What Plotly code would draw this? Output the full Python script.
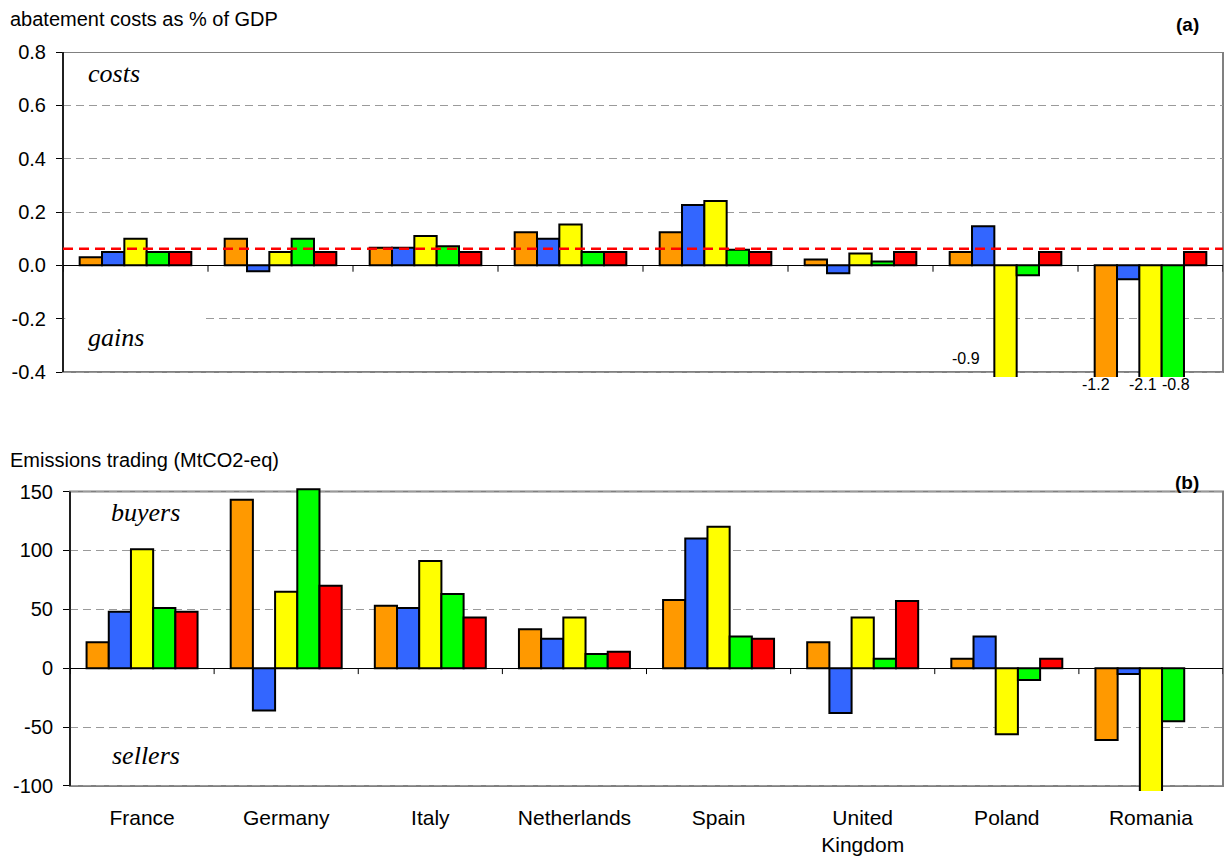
import plotly.graph_objects as go

# ---------------------------------------------------------------- data
countries = ["France", "Germany", "Italy", "Netherlands", "Spain",
             "United<br>Kingdom", "Poland", "Romania"]
series_names = ["Variant 1", "Variant 2", "Variant 3", "Variant 4", "Variant 5"]
series_colors = ["#FF9900", "#3366FF", "#FFFF00", "#00FF00", "#FF0000"]

# (a) abatement costs as % of GDP
cost_v1 = [0.03, 0.10, 0.066, 0.124, 0.124, 0.022, 0.05, -1.2]
cost_v2 = [0.05, -0.022, 0.066, 0.10, 0.226, -0.03, 0.147, -0.052]
cost_v3 = [0.10, 0.05, 0.11, 0.153, 0.241, 0.044, -0.9, -2.1]
cost_v4 = [0.05, 0.10, 0.072, 0.05, 0.058, 0.014, -0.037, -0.8]
cost_v5 = [0.05, 0.05, 0.05, 0.05, 0.05, 0.05, 0.05, 0.05]
cost_average = 0.062

# (b) emissions trading, MtCO2-eq (positive = buyers, negative = sellers)
trade_v1 = [22, 143, 53, 33, 58, 22, 8, -61]
trade_v2 = [48, -36, 51, 25, 110, -38, 27, -5]
trade_v3 = [101, 65, 91, 43, 120, 43, -56, -110]
trade_v4 = [51, 152, 63, 12, 27, 8, -10, -45]
trade_v5 = [48, 70, 43, 14, 25, 57, 8, None]

cost_ticks = [-0.4, -0.2, 0.0, 0.2, 0.4, 0.6, 0.8]
trade_ticks = [-100, -50, 0, 50, 100, 150]

cost_series = [cost_v1, cost_v2, cost_v3, cost_v4, cost_v5]
trade_series = [trade_v1, trade_v2, trade_v3, trade_v4, trade_v5]

# ---------------------------------------------------------------- layout constants
W, H = 1225, 859
BARGAP = 0.23
N_SER = len(series_names)
BAR_W = (1 - BARGAP) / N_SER
SANS = "Liberation Sans, Arial, sans-serif"
SERIF = "Liberation Serif, Times New Roman, serif"
FRAME = "#808080"
GRID = "#9a9a9a"

COST_MIN, COST_MAX = cost_ticks[0], cost_ticks[-1]
TRADE_MIN, TRADE_MAX = trade_ticks[0], trade_ticks[-1]


def py(px):
    """pixel row -> paper fraction"""
    return 1 - px / H


def pxx(px):
    return px / W


fig = go.Figure()

for name, color, vals in zip(series_names, series_colors, cost_series):
    fig.add_trace(go.Bar(x=countries, y=vals, name=name, marker_color=color,
                         marker_line=dict(color="black", width=2),
                         xaxis="x", yaxis="y", offsetgroup=name, showlegend=False))
for name, color, vals in zip(series_names, series_colors, trade_series):
    fig.add_trace(go.Bar(x=countries, y=vals, name=name, marker_color=color,
                         marker_line=dict(color="black", width=2),
                         xaxis="x2", yaxis="y2", offsetgroup=name, showlegend=False))

shapes = []
annotations = []

# frames, left axis lines and category boundary ticks on the zero line
for xr, yr, lo, hi in (("x", "y", COST_MIN, COST_MAX), ("x2", "y2", TRADE_MIN, TRADE_MAX)):
    shapes.append(dict(type="rect", xref=f"{xr} domain", yref=yr, x0=0, x1=1, y0=lo, y1=hi,
                       line=dict(color=FRAME, width=2), layer="below"))
    shapes.append(dict(type="line", xref=f"{xr} domain", yref=yr, x0=0, x1=0, y0=lo, y1=hi,
                       line=dict(color="black", width=1.5), layer="above"))
    for i in range(len(countries) + 1):
        shapes.append(dict(type="line", xref=xr, yref=yr, x0=i - 0.5, x1=i - 0.5,
                           y0=0, y1=(hi - lo) * -0.02,
                           line=dict(color="black", width=1), layer="above"))

# gap in the -0.2 gridline behind the "gains" label
shapes.append(dict(type="rect", xref="x domain", yref="y", x0=0.002, x1=0.12,
                   y0=-0.23, y1=-0.17, fillcolor="white", line=dict(width=0), layer="above"))

# average cost line
shapes.append(dict(type="line", xref="x domain", yref="y", x0=0, x1=1,
                   y0=cost_average, y1=cost_average,
                   line=dict(color="#FF0000", width=2.5, dash="10px,6px"), layer="above"))

# value labels for bars running past the bottom of panel (a)
label_shift = {(0, 7): (-10, 0), (2, 7): (-8, 0), (3, 7): (3, 0), (2, 6): (-40, 26)}
for k, vals in enumerate(cost_series):
    for i, v in enumerate(vals):
        if v is not None and v < COST_MIN:
            dx, dy = label_shift.get((k, i), (0, 0))
            annotations.append(dict(xref="x", yref="y", x=i + (k - (N_SER - 1) / 2) * BAR_W,
                                    y=COST_MIN, yanchor="top", xanchor="center",
                                    xshift=dx, yshift=-2 + dy, showarrow=False,
                                    text=f"{v:.1f}", font=dict(family=SANS, size=16, color="black")))

# panel titles and tags
annotations += [
    dict(xref="paper", yref="paper", x=pxx(8), y=py(19), xanchor="left", yanchor="middle",
         text="abatement costs as % of GDP", showarrow=False,
         font=dict(family=SANS, size=20, color="black")),
    dict(xref="paper", yref="paper", x=pxx(1187), y=py(25), xanchor="center", yanchor="middle",
         text="<b>(a)</b>", showarrow=False, font=dict(family=SANS, size=19, color="black")),
    dict(xref="paper", yref="paper", x=pxx(8), y=py(460), xanchor="left", yanchor="middle",
         text="Emissions trading (MtCO2-eq)", showarrow=False,
         font=dict(family=SANS, size=20, color="black")),
    dict(xref="paper", yref="paper", x=pxx(1187), y=py(482), xanchor="center", yanchor="middle",
         text="<b>(b)</b>", showarrow=False, font=dict(family=SANS, size=19, color="black")),
]

# italic region captions
for txt, x, y in (("costs", 86, 74), ("gains", 86, 337), ("buyers", 109, 512), ("sellers", 110, 755)):
    annotations.append(dict(xref="paper", yref="paper", x=pxx(x), y=py(y), xanchor="left",
                            yanchor="middle", text=f"<i>{txt}</i>", showarrow=False,
                            font=dict(family=SERIF, size=26, color="black")))

common_y = dict(showgrid=True, gridcolor=GRID, gridwidth=1, griddash="8px,5px",
                zeroline=True, zerolinecolor="black", zerolinewidth=1,
                ticks="outside", ticklen=6, tickcolor="black", tickwidth=1,
                showline=False, tickfont=dict(family=SANS, size=20, color="black"),
                ticklabelstandoff=6, automargin=False)

fig.update_layout(
    width=W, height=H,
    margin=dict(l=0, r=0, t=0, b=0),
    paper_bgcolor="white", plot_bgcolor="white",
    barmode="group", bargap=BARGAP, bargroupgap=0,
    xaxis=dict(domain=[pxx(63), pxx(1223)], anchor="y", type="category",
               categoryorder="array", categoryarray=countries,
               range=[-0.5, len(countries) - 0.5],
               showticklabels=False, ticks="", showgrid=False, zeroline=False, showline=False),
    yaxis=dict(domain=[py(377), py(52)], anchor="x",
               range=[COST_MIN - 5 / 266.7, COST_MAX],
               tickvals=cost_ticks, ticktext=[f"{v:.1f}" for v in cost_ticks], **common_y),
    xaxis2=dict(domain=[pxx(70), pxx(1223)], anchor="y2", type="category",
                categoryorder="array", categoryarray=countries,
                range=[-0.5, len(countries) - 0.5],
                ticks="", showgrid=False, zeroline=False, showline=False,
                tickfont=dict(family=SANS, size=21, color="black"),
                ticklabelstandoff=12, automargin=False),
    yaxis2=dict(domain=[py(791), py(488)], anchor="x2",
                range=[TRADE_MIN - 5 / 1.176, TRADE_MAX + 3.5 / 1.176],
                tickvals=trade_ticks, ticktext=[str(v) for v in trade_ticks], **common_y),
    shapes=shapes,
    annotations=annotations,
)

fig.write_html("out.html")
